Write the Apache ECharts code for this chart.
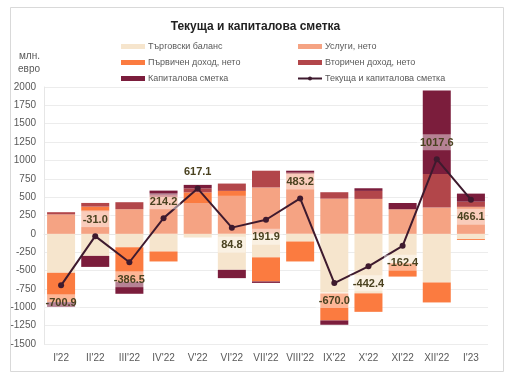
<!DOCTYPE html>
<html>
<head>
<meta charset="utf-8">
<script src="https://cdn.jsdelivr.net/npm/echarts@6/dist/echarts.min.js"></script>
<style>html,body{margin:0;padding:0;background:#fff}#c{width:511px;height:378px}</style>
</head>
<body>
<div id="c"></div>
<script>
const categories = ["I'22","II'22","III'22","IV'22","V'22","VI'22","VII'22","VIII'22","IX'22","X'22","XI'22","XII'22","I'23"];
const trade     = [-530, -300, -181, -240, -50, -490, -320, -104, -812, -810, -400, -662, -70];
const services  = [265, 317, 336, 503, 420, 517, 632, 820, 480, 476, 335, 358, 368];
const primary   = [-400, 54, -472, -136, 145, 68, -328, -272, -367, -252, -182, -272, -12];
const secondary = [30, 50, 95, 27, 55, 100, 228, 15, 87, 109, 0, 458, 70];
const capital   = [-65, -150, -163, 59, 47, -113, -20, 25, -59, 36, 85, 1136, 110];
const total     = [-700.9, -31.0, -386.5, 214.2, 617.1, 84.8, 191.9, 483.2, -670.0, -442.4, -162.4, 1017.6, 466.1];
const labelPos  = ['bottom','top','bottom','top','top','bottom','bottom','top','bottom','bottom','bottom','top','bottom'];
const names = ['Търговски баланс','Услуги, нето','Първичен доход, нето','Вторичен доход, нето','Капиталова сметка','Текуща и капиталова сметка'];
const colors = ['#F6E5CD','#F5A383','#FB7B40','#B2464A','#7B1D3C','#3E1A2E'];

const FONT = '"Liberation Sans Narrow","Liberation Sans",Arial,sans-serif';
const chart = echarts.init(document.getElementById('c'), null, {renderer:'canvas'});

function barSeries(i, data){
  return {name:names[i], type:'bar', stack:'total', data:data, barCategoryGap:'18%',
    itemStyle:{color:colors[i]}, emphasis:{disabled:true}, z:2};
}
const legendCommon = {orient:'vertical', itemWidth:24, itemHeight:5, itemGap:7,
  textStyle:{fontFamily:FONT, fontSize:9, color:'#595959', padding:[0,0,0,-2]}, selectedMode:false};

chart.setOption({
  animation:false,
  backgroundColor:'#fff',
  graphic:[{type:'rect', shape:{x:10.5,y:7.5,width:493,height:364}, style:{fill:'none', stroke:'#d9d9d9', lineWidth:1}, silent:true, z:-10}],
  title:{text:'Текуща и капиталова сметка', left:'center', top:16,
    textStyle:{fontFamily:FONT, fontSize:12, fontWeight:'bold', color:'#222'}},
  legend:[
    Object.assign({left:116, top:37, data:[
      {name:names[0], icon:'rect'},{name:names[2], icon:'rect'},{name:names[4], icon:'rect'}]}, legendCommon),
    Object.assign({left:292, top:37, data:[
      {name:names[1], icon:'rect'},{name:names[3], icon:'rect'},{name:names[5]}]}, legendCommon)
  ],
  grid:{left:44, right:23, top:87, bottom:34, containLabel:false},
  xAxis:{type:'category', data:categories,
    axisLine:{show:true, lineStyle:{color:'#e6e6e6'}}, axisTick:{show:false},
    axisLabel:{fontFamily:FONT, fontSize:10, color:'#595959', margin:9, interval:0},
    splitLine:{show:false}},
  yAxis:{type:'value', min:-1500, max:2000, interval:250,
    name:'млн.\nевро', nameLocation:'end', nameGap:11,
    nameTextStyle:{fontFamily:FONT, fontSize:10, color:'#595959', align:'right', padding:[0,4,0,0], lineHeight:13},
    axisLine:{show:true, lineStyle:{color:'#e6e6e6'}}, axisTick:{show:false},
    axisLabel:{fontFamily:FONT, fontSize:10, color:'#595959', margin:8, formatter:v=>String(v)},
    splitLine:{lineStyle:{color:'#ececec'}}},
  series:[
    barSeries(0, trade), barSeries(1, services), barSeries(2, primary), barSeries(3, secondary), barSeries(4, capital),
    {name:names[5], type:'line', data:total.map((v,i)=>({value:v, label:{position:labelPos[i]}})),
      z:5, symbol:'circle', symbolSize:6,
      lineStyle:{color:colors[5], width:2}, itemStyle:{color:colors[5]},
      emphasis:{disabled:true},
      label:{show:true, distance:6, fontFamily:FONT, fontSize:11, fontWeight:'bold', color:'#4a4220',
        backgroundColor:'rgba(255,255,255,0.45)', padding:[3,3,2,3],
        formatter:p=>p.value.toFixed(1)}}
  ]
});
</script>
</body>
</html>
